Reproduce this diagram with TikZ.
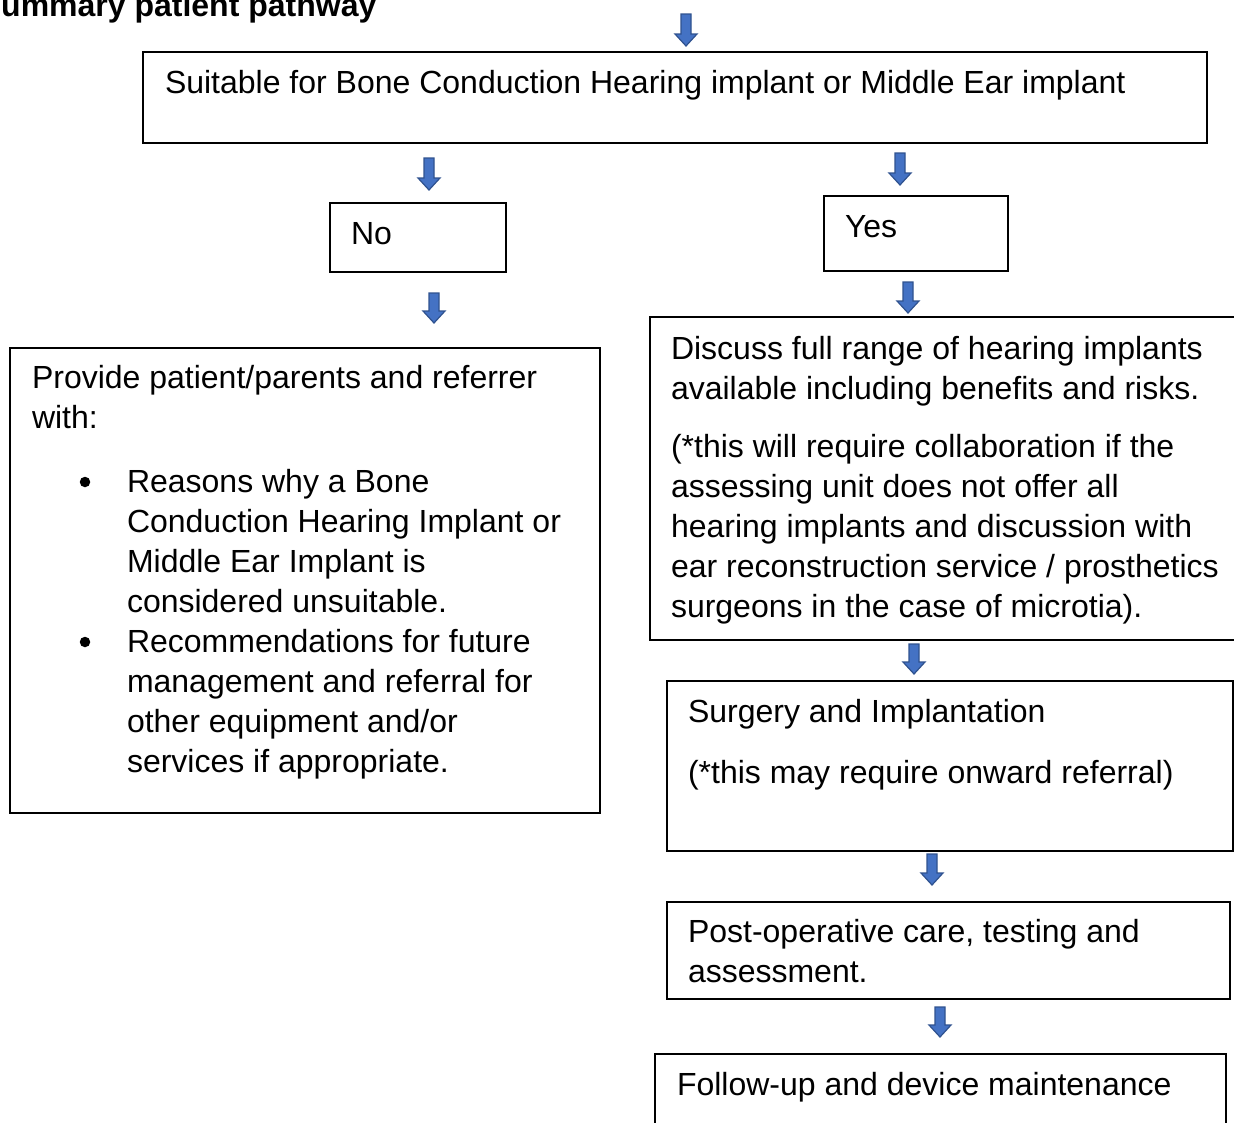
\documentclass[tikz,border=0pt]{standalone}
\usepackage{fontspec}
\setmainfont{Liberation Sans}
\usetikzlibrary{calc}
\definecolor{arrfill}{HTML}{4472C4}
\definecolor{arrline}{HTML}{2F528F}
\tikzset{
  box/.style={draw=black, line width=1.4pt, inner sep=0pt, outer sep=0pt, anchor=north west},
  txt/.style={anchor=base west, inner sep=0pt, outer sep=0pt, align=left, font=\fontsize{32}{40}\selectfont},
  barrow/.style={fill=arrfill, draw=arrline, line width=1.2pt, line join=miter},
  dot/.style={circle, fill=black, inner sep=0pt, minimum size=10.5pt},
}
\newcommand{\blockarrow}[2]{%
  \draw[barrow] ($(#1)+(-5,0)$) -- ($(#2)+(-5,-12)$) -- ($(#2)+(-11,-12)$) -- (#2)
    -- ($(#2)+(11,-12)$) -- ($(#2)+(5,-12)$) -- ($(#1)+(5,0)$) -- cycle;}
\begin{document}
\begin{tikzpicture}[x=1pt, y=-1pt]
\useasboundingbox (0,0) rectangle (1234,1122);
% title
\node[anchor=base west, inner sep=0pt, font=\bfseries\fontsize{32}{38}\selectfont] (title) at (1,16) {ummary patient pathway};
% boxes
\node[box, minimum width=1064pt, minimum height=91pt] (top) at (143,52) {};
\node[box, minimum width=176pt, minimum height=69pt] (no) at (330,203) {};
\node[box, minimum width=184pt, minimum height=75pt] (yes) at (824,196) {};
\node[box, minimum width=590pt, minimum height=465pt] (left) at (10,348) {};
\node[box, minimum width=586pt, minimum height=323pt] (discuss) at (650,317) {};
\node[box, minimum width=566pt, minimum height=170pt] (surgery) at (667,681) {};
\node[box, minimum width=563pt, minimum height=97pt] (post) at (667,902) {};
\node[box, minimum width=571pt, minimum height=72pt] (follow) at (655,1054) {};
% texts (base anchor = baseline of the last line)
\node[txt] (toptxt) at (165,93) {Suitable for Bone Conduction Hearing implant or Middle Ear implant};
\node[txt] (notxt) at (351,244) {No};
\node[txt] (yestxt) at (845,237) {Yes};
\node[txt] (lefttxt) at (32,428) {Provide patient/parents and referrer\\with:};
\node[dot] (b1) at (85,482) {};
\node[txt] (item1) at (127,612) {Reasons why a Bone\\Conduction Hearing Implant or\\Middle Ear Implant is\\considered unsuitable.};
\node[dot] (b2) at (85,642) {};
\node[txt] (item2) at (127,772) {Recommendations for future\\management and referral for\\other equipment and/or\\services if appropriate.};
\node[txt] (disc1) at (671,399) {Discuss full range of hearing implants\\available including benefits and risks.};
\node[txt] (disc2) at (671,617) {(*this will require collaboration if the\\assessing unit does not offer all\\hearing implants and discussion with\\ear reconstruction service / prosthetics\\surgeons in the case of microtia).};
\node[txt] (surg1) at (688,722) {Surgery and Implantation};
\node[txt] (surg2) at (688,783) {(*this may require onward referral)};
\node[txt] (posttxt) at (688,982) {Post-operative care, testing and\\assessment.};
\node[txt] (followtxt) at (677,1095) {Follow-up and device maintenance};
% arrows
\coordinate (a0s) at (686,14); \coordinate (a0e) at (686,46);
\coordinate (a1s) at (429,158); \coordinate (a1e) at (429,190);
\coordinate (a2s) at (900,153); \coordinate (a2e) at (900,185);
\coordinate (a3s) at (434,293); \coordinate (a3e) at (434,323);
\coordinate (a4s) at (908,282); \coordinate (a4e) at (908,313);
\coordinate (a5s) at (914,644); \coordinate (a5e) at (914,674);
\coordinate (a6s) at (932,854); \coordinate (a6e) at (932,885);
\coordinate (a7s) at (940,1007); \coordinate (a7e) at (940,1037);
\blockarrow{a0s}{a0e}
\blockarrow{a1s}{a1e}
\blockarrow{a2s}{a2e}
\blockarrow{a3s}{a3e}
\blockarrow{a4s}{a4e}
\blockarrow{a5s}{a5e}
\blockarrow{a6s}{a6e}
\blockarrow{a7s}{a7e}
\end{tikzpicture}
\end{document}
